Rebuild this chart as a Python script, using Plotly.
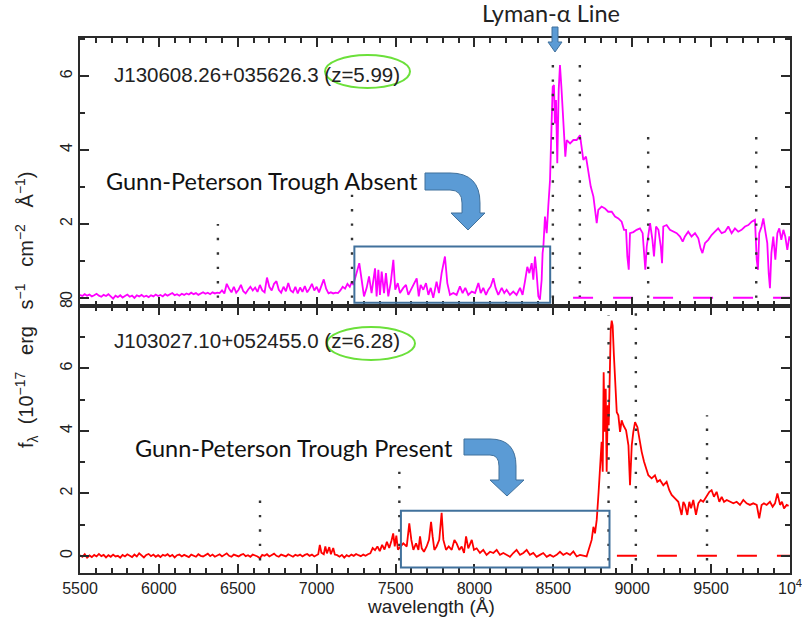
import plotly.graph_objects as go

# ---------------- data ----------------
top_wave = [5500,5515,5530,5545,5560,5575,5590,5605,5620,5635,5650,5665,5680,5695,5710,5725,5740,5755,5770,5785,
            5800,5815,5830,5845,5860,5875,5890,5905,5920,5935,5950,5965,5980,5995,6010,6025,6040,6055,6070,6085,
            6100,6115,6130,6145,6160,6175,6190,6205,6220,6235,6250,6265,6280,6295,6310,6325,6340,6355,6370,
            6385,6400,6415,6430,6445,6460,6475,6490,6505,6520,6535,6550,6565,6580,6595,6610,6625,6640,6655,6670,
            6685,6700,6715,6730,6745,6760,6775,6790,6805,6820,6835,6850,6865,6880,6895,6910,6925,6940,6955,6970,
            6985,7000,7015,7030,7045,7060,7075,7090,7105,7120,7135,7150,7165,7180,7195,7210,7225,
            7232,7253,7270,7285,7300,7317,7332,7348,7370,7380,7391,7401,7412,7427,7439,7454,7469,7486,7498,7514,
            7528,7549,7566,7581,7602,7619,7634,7647,7659,7676,7693,7708,7723,7739,7760,7775,7792,7813,7828,7845,
            7866,7887,7908,7925,7942,7961,7983,8004,8025,8040,8056,8073,8088,8103,8120,8134,8151,8173,8189,8204,
            8225,8246,8267,8289,8305,8320,8335,8348,8363,8373,8384,8394,8405,8415,8426,8432,
            8437,8447,8458,8468,8479,8489,8496,8504,8510,8517,8525,8534,8542,8551,8559,8568,8576,8585,8606,8627,
            8648,8669,8680,8690,8707,8722,8737,8754,8766,8775,8785,8806,8827,8848,8870,8891,8912,8933,8948,8961,
            8969,8978,8986,9007,9028,9049,9066,9075,9083,9092,9102,9113,9128,9138,9151,9166,9181,9189,9197,9218,
            9239,9260,9282,9303,9320,9334,9355,9376,9398,9419,9433,9445,9461,9482,9503,9524,9545,9567,9588,9609,
            9630,9651,9672,9693,9715,9736,9757,9778,9789,9797,9805,9820,9831,9844,9856,9865,9873,9882,9894,9907,
            9920,9932,9945,9958,9970,9983,9996,10000]
top_flux = [0.08,0.05,0.10,0.06,0.09,0.04,0.07,0.11,0.06,0.03,0.08,0.05,0.10,0.04,-0.02,0.06,0.02,0.07,0.01,0.05,
            0.09,0.03,0.06,0.00,0.07,0.04,0.08,0.03,0.06,0.02,0.07,0.04,0.09,0.05,0.08,0.04,0.10,0.06,0.09,0.13,
            0.07,0.10,0.06,0.11,0.08,0.12,0.09,0.14,0.10,0.13,0.08,0.12,0.15,0.11,0.14,0.10,0.15,0.12,0.14,
            0.13,0.20,0.12,0.38,0.25,0.15,0.30,0.14,0.22,0.35,0.18,0.12,0.22,0.30,0.20,0.28,0.16,0.35,0.20,0.15,
            0.55,0.30,0.20,0.38,0.45,0.22,0.14,0.30,0.18,0.40,0.20,0.15,0.30,0.12,0.28,0.16,0.32,0.15,0.25,0.38,
            0.20,0.30,0.15,0.35,0.50,0.25,0.12,0.15,0.12,0.14,0.13,0.20,0.30,0.25,0.38,0.30,0.45,
            0.35,0.67,0.94,0.49,0.04,0.27,0.58,0.13,0.80,0.04,0.76,0.08,0.71,0.13,0.67,0.04,0.40,1.03,0.22,0.40,
            0.13,0.27,0.35,0.08,0.27,0.40,0.53,0.04,0.35,0.22,0.40,0.08,0.27,0.00,0.44,0.13,0.67,1.12,0.40,0.08,
            0.13,0.08,0.31,0.13,0.27,0.08,0.17,0.13,0.40,0.13,0.27,0.08,0.22,0.31,0.53,0.27,0.08,0.27,0.13,0.22,
            0.08,0.17,0.08,0.27,0.08,0.44,0.84,0.67,0.94,0.49,1.12,0.67,0.04,-0.05,0.49,1.21,
            1.39,2.20,1.75,2.47,3.19,4.72,5.71,5.76,4.72,5.35,3.64,5.62,6.30,5.71,5.17,4.27,3.82,4.27,4.18,4.27,
            4.27,4.40,4.09,3.73,3.82,3.37,3.01,2.74,2.38,2.02,2.38,2.47,2.42,2.33,2.33,2.20,2.15,2.06,1.84,1.84,
            1.12,0.76,1.75,1.78,1.84,1.88,1.75,1.21,0.76,1.39,1.75,2.02,1.57,1.12,1.93,1.84,1.39,0.94,1.93,1.97,
            1.84,1.79,1.75,1.66,1.52,1.66,1.79,1.66,1.75,1.61,1.34,1.21,1.48,1.57,1.70,1.79,1.88,1.75,1.79,1.93,
            1.75,1.88,1.79,1.84,1.93,1.97,2.06,2.11,1.03,0.76,1.75,1.93,2.15,1.79,1.48,0.67,0.26,1.21,1.66,1.03,
            1.75,1.88,1.57,1.84,1.66,1.30,1.66,1.55]

bot_wave = [5500,5515,5530,5545,5560,5575,5590,5605,5620,5635,5650,5665,5680,5695,5710,5725,5740,5755,5770,5785,
            5800,5815,5830,5845,5860,5875,5890,5905,5920,5935,5950,5965,5980,5995,6010,6025,6040,6055,6070,6085,
            6100,6115,6130,6145,6160,6175,6190,6205,6220,6235,6250,6265,6280,6295,6310,6325,6340,6355,6370,6385,
            6400,6415,6430,6445,6460,6475,6490,6505,6520,6535,6550,6565,6580,6595,6610,6625,6640,6655,6670,6685,
            6700,6715,6730,6745,6760,6775,6790,6805,6820,6835,6850,6865,6880,6895,6910,6925,6940,6955,6970,6985,
            7000,7010,7020,7030,7045,7055,7065,7080,7090,7105,7115,7130,7145,7160,7175,7190,7205,7220,7235,7250,
            7265,7280,7295,7310,7325,7340,7355,7370,7385,7400,7415,7430,7445,7460,7475,7485,7495,7505,7515,
            7549,7571,7587,7600,7613,7630,7645,7655,7666,7680,7697,7712,7725,7735,7746,7760,7777,7792,7803,7820,
            7837,7856,7873,7887,7904,7919,7934,7947,7961,7983,7997,8014,8035,8056,8077,8099,8120,8141,8162,8183,
            8204,8225,8246,8267,8289,8310,8331,8352,8373,8394,8415,8436,8458,8479,8500,8521,8542,8563,8585,8606,
            8627,8648,8669,8711,8743,8754,8764,8775,8787,
            8796,8806,8813,8819,8825,8832,8838,8845,8851,8857,8864,8870,8876,8884,8893,8902,8912,8923,8933,8944,
            8961,8976,8986,8997,9007,9018,9033,9045,9060,9075,9092,9102,9123,9144,9159,9176,9197,9218,9235,9250,
            9271,9292,9313,9324,9334,9349,9362,9373,9387,9404,9419,9434,9450,9472,9489,9503,9518,9535,9552,9567,
            9582,9599,9620,9641,9662,9683,9704,9725,9746,9767,9789,9805,9820,9835,9852,9873,9890,9905,9920,9937,
            9949,9962,9979,9991,10000]
bot_flux = [0.02,-0.03,0.05,-0.06,0.01,-0.04,0.03,-0.02,0.06,-0.01,0.03,-0.05,0.02,-0.03,0.04,-0.02,0.00,-0.06,0.03,-0.02,
            0.05,0.00,-0.04,0.04,-0.02,0.08,0.01,-0.05,0.03,0.06,-0.01,0.04,-0.03,0.02,-0.04,0.03,0.00,0.05,-0.02,0.03,
            -0.05,0.02,0.04,-0.02,0.03,0.00,-0.04,0.04,0.01,-0.03,0.05,0.00,-0.02,0.03,0.07,-0.01,0.04,-0.03,0.02,0.05,
            -0.02,0.03,0.08,0.00,-0.03,0.04,0.01,-0.02,0.03,0.06,-0.01,0.02,-0.03,0.04,0.01,-0.02,-0.08,0.03,0.00,0.05,
            -0.02,0.03,0.07,0.00,-0.03,0.04,0.02,-0.02,0.05,0.01,-0.03,0.03,0.00,0.04,-0.02,0.03,0.06,0.00,0.04,-0.02,
            0.03,0.05,0.35,0.10,0.05,0.30,0.08,0.28,0.05,0.25,0.04,0.02,-0.03,0.03,-0.06,0.02,-0.02,0.04,0.00,0.06,
            0.02,-0.01,0.04,0.00,0.05,0.08,0.25,0.18,0.30,0.15,0.35,0.20,0.45,0.25,0.50,0.72,0.30,0.65,0.20,
            0.40,0.30,1.04,0.51,0.19,0.40,0.19,0.62,0.24,0.13,0.30,0.51,1.09,0.62,0.19,0.30,0.51,1.38,0.51,0.19,
            0.30,0.19,0.51,0.40,0.19,0.30,0.09,0.62,0.24,0.51,0.19,0.24,0.09,0.19,0.03,0.13,0.09,0.19,0.03,0.09,
            0.03,-0.03,0.09,0.19,0.03,0.09,0.19,0.03,0.09,-0.03,0.03,0.09,-0.03,0.03,-0.03,0.03,0.13,0.03,0.09,0.03,
            0.14,-0.02,0.03,-0.02,0.51,0.93,0.72,1.15,
            2.05,2.90,3.65,2.69,5.88,3.97,5.35,2.69,4.82,4.18,6.41,7.26,7.53,7.37,6.41,5.35,4.60,4.50,3.97,4.34,
            4.18,4.02,3.54,2.26,3.54,3.97,4.28,4.12,3.75,3.33,3.01,2.69,2.58,2.48,2.58,2.37,2.43,2.26,2.37,2.10,
            1.95,1.84,1.73,1.31,1.73,1.63,1.31,1.73,1.52,1.79,1.31,1.68,1.79,1.73,1.89,2.05,2.10,1.89,2.05,1.73,
            1.89,1.73,1.79,1.73,1.68,1.73,1.63,1.79,1.68,1.63,1.68,1.63,1.20,1.63,1.68,1.63,1.73,1.57,1.68,2.00,
            1.63,1.73,1.52,1.63,1.60]

# emission-line markers (observed wavelength, height of dotted line)
top_lines = [6374, 7224, 8497, 8668, 9101, 9786]
top_line_h = [2.0, 2.9, 6.45, 6.6, 4.5, 4.55]
bot_lines = [6641, 7524, 8850, 9023, 9474]
bot_line_h = [2.0, 2.9, 7.7, 7.85, 4.5]

# zero-level continuum reference (dashed)
top_zero = [8625, 10000]
bot_zero = [8903, 10000]

x_ticks = [5500, 6000, 6500, 7000, 7500, 8000, 8500, 9000, 9500, 10000]
x_ticktext = ["5500", "6000", "6500", "7000", "7500", "8000", "8500", "9000", "9500", "10<sup>4</sup>"]
y_ticks_top = [0, 2, 4, 6]
y_ticks_bot = [0, 2, 4, 6, 8]

top_name = "J130608.26+035626.3 (z=5.99)"
bot_name = "J103027.10+052455.0 (z=6.28)"

# ---------------- figure ----------------
W, H = 802, 621
def px(x):
    return x / W
def py(y):
    return 1 - y / H

MAG = "#FF00FF"
RED = "#FF0000"
AX = "#2a2a2a"
DOT = "#333333"

fig = go.Figure()

fig.add_trace(go.Scatter(x=top_wave, y=top_flux, mode="lines",
                         line=dict(color=MAG, width=1.8), xaxis="x", yaxis="y", hoverinfo="skip"))
fig.add_trace(go.Scatter(x=bot_wave, y=bot_flux, mode="lines",
                         line=dict(color=RED, width=1.8), xaxis="x2", yaxis="y2", hoverinfo="skip"))

def vlines(ws, hs, base):
    xs, ys = [], []
    for w, h in zip(ws, hs):
        xs += [w, w, None]
        ys += [base, h, None]
    return xs, ys

xs, ys = vlines(top_lines, top_line_h, 0.0)
fig.add_trace(go.Scatter(x=xs, y=ys, mode="lines", line=dict(color=DOT, width=2.4, dash="2.4px,12px"),
                         xaxis="x", yaxis="y", hoverinfo="skip"))
xs, ys = vlines(bot_lines, bot_line_h, -0.15)
fig.add_trace(go.Scatter(x=xs, y=ys, mode="lines", line=dict(color=DOT, width=2.4, dash="2.4px,12px"),
                         xaxis="x2", yaxis="y2", hoverinfo="skip"))

fig.add_trace(go.Scatter(x=top_zero, y=[0, 0], mode="lines", line=dict(color=MAG, width=2, dash="20px,20px"),
                         xaxis="x", yaxis="y", hoverinfo="skip"))
fig.add_trace(go.Scatter(x=bot_zero, y=[0, 0], mode="lines", line=dict(color=RED, width=2, dash="20px,20px"),
                         xaxis="x2", yaxis="y2", hoverinfo="skip"))

xdom = [px(80), px(790)]
top_dom = [py(306), py(38)]
bot_dom = [py(573), py(306)]

tickfont = dict(family="Liberation Sans, Arial, sans-serif", size=16, color="#222")
common_x = dict(range=[5500, 10000], domain=xdom, showline=True, linewidth=2, linecolor=AX,
                mirror="ticks", ticks="inside", ticklen=9, tickwidth=1.5, tickcolor=AX,
                tickmode="array", tickvals=x_ticks, ticktext=x_ticktext, automargin=False,
                ticklabeloverflow="allow",
                minor=dict(tickmode="linear", tick0=5500, dtick=100, ticks="inside", ticklen=5,
                           tickwidth=1.5, tickcolor=AX, showgrid=False),
                showgrid=False, zeroline=False, tickfont=tickfont)
common_y = dict(showline=True, linewidth=2, linecolor=AX, mirror="ticks", ticks="inside",
                ticklen=9, tickwidth=1.5, tickcolor=AX, tickangle=-90, automargin=False,
                ticklabeloverflow="allow",
                minor=dict(tickmode="linear", tick0=0, dtick=1, ticks="inside", ticklen=5,
                           tickwidth=1.5, tickcolor=AX, showgrid=False),
                showgrid=False, zeroline=False, tickfont=tickfont)

fig.update_layout(
    width=W, height=H, margin=dict(l=0, r=0, t=0, b=0, pad=0, autoexpand=False),
    paper_bgcolor="white", plot_bgcolor="white", showlegend=False,
    xaxis=dict(common_x, anchor="y", showticklabels=False),
    yaxis=dict(common_y, domain=top_dom, anchor="x", range=[-0.22, 7.03],
               tickmode="array", tickvals=y_ticks_top),
    xaxis2=dict(common_x, anchor="y2", matches="x"),
    yaxis2=dict(common_y, domain=bot_dom, anchor="x2", range=[-0.55, 8.0],
                tickmode="array", tickvals=y_ticks_bot),
)

BOX = "#41719C"
shapes = [
    dict(type="rect", xref="x", yref="y", x0=7239, x1=8480, y0=-0.13, y1=1.39,
         line=dict(color=BOX, width=2)),
    dict(type="rect", xref="x2", yref="y2", x0=7534, x1=8856, y0=-0.37, y1=1.44,
         line=dict(color=BOX, width=2)),
    dict(type="circle", xref="paper", yref="paper", x0=px(325), x1=px(410), y0=py(88), y1=py(55),
         line=dict(color="#6BE03A", width=2)),
    dict(type="circle", xref="paper", yref="paper", x0=px(327), x1=px(415), y0=py(360), y1=py(327),
         line=dict(color="#6BE03A", width=2)),
]

def path_from(points_cmds):
    out = []
    for cmd, pts in points_cmds:
        coords = " ".join(f"{px(x):.5f},{py(y):.5f}" for x, y in pts)
        out.append(f"{cmd} {coords}")
    return " ".join(out) + " Z"

arrow_top = path_from([
    ("M", [(425, 173)]), ("L", [(450, 173)]), ("Q", [(480, 173), (480, 203)]),
    ("L", [(480, 213)]), ("L", [(485, 213)]), ("L", [(468, 230)]), ("L", [(451, 213)]),
    ("L", [(462, 213)]), ("L", [(462, 203)]), ("Q", [(462, 190), (450, 190)]), ("L", [(425, 190)]),
])
arrow_bot = path_from([
    ("M", [(464, 439)]), ("L", [(490, 439)]), ("Q", [(516, 439), (516, 466)]),
    ("L", [(516, 480)]), ("L", [(524, 480)]), ("L", [(507, 496)]), ("L", [(490, 480)]),
    ("L", [(499, 480)]), ("L", [(499, 466)]), ("Q", [(499, 455), (490, 455)]), ("L", [(464, 455)]),
])
arrow_lya = path_from([
    ("M", [(552, 27)]), ("L", [(558, 27)]), ("L", [(558, 42)]), ("L", [(562, 42)]),
    ("L", [(555, 52)]), ("L", [(548, 42)]), ("L", [(552, 42)]),
])
for p in (arrow_top, arrow_bot, arrow_lya):
    shapes.append(dict(type="path", xref="paper", yref="paper", path=p,
                       fillcolor="#5B9BD5", line=dict(color="#41719C", width=1)))
fig.update_layout(shapes=shapes)

CAL = "Lato, Carlito, Calibri, sans-serif"
HEL = "Liberation Sans, Arial, sans-serif"
ann = [
    dict(text="Lyman-α Line", x=px(551), y=py(13), font=dict(family=CAL, size=23.5, color="#222")),
    dict(text="Gunn-Peterson Trough Absent", x=px(104), y=py(181), xanchor="left",
         font=dict(family=CAL, size=23.5, color="#111")),
    dict(text="Gunn-Peterson Trough Present", x=px(133), y=py(448), xanchor="left",
         font=dict(family=CAL, size=23.5, color="#111")),
    dict(text=top_name, x=px(112), y=py(75), xanchor="left", font=dict(family=HEL, size=20.5, color="#222")),
    dict(text=bot_name, x=px(112), y=py(340), xanchor="left", font=dict(family=HEL, size=20.5, color="#222")),
    dict(text="wavelength (Å)", x=px(431), y=py(606), font=dict(family=HEL, size=19, color="#222")),
    dict(text="f<sub>λ</sub>  (10<sup>−17</sup>   erg   s<sup>−1</sup>   cm<sup>−2</sup>   Å<sup>−1</sup>)",
         x=px(26), y=py(310), textangle=-90, font=dict(family=HEL, size=20, color="#222")),
]
for a in ann:
    a.update(xref="paper", yref="paper", showarrow=False)
    a.setdefault("xanchor", "center")
    a.setdefault("yanchor", "middle")
fig.update_layout(annotations=ann)

fig.write_html("out.html")
